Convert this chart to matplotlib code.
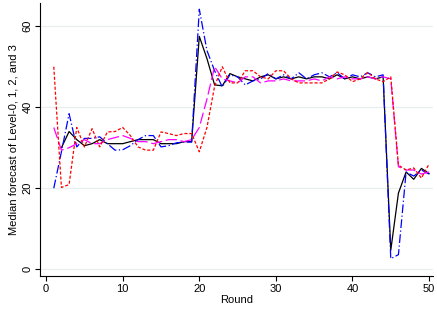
import numpy as np
import matplotlib
matplotlib.use("Agg")
import matplotlib.pyplot as plt

plt.rcParams["font.family"] = ["Liberation Sans", "DejaVu Sans"]

rounds = np.arange(1, 51)

level0 = [np.nan, 30, 34, 32, 30.5, 31, 32, 31, 31, 31,
          31.5, 32, 32, 32, 31, 31, 31, 31.5, 31.5, 57.5,
          52, 45.5, 45.3, 48.3, 47.5, 47, 46.5, 47.5, 48, 47,
          47.5, 47, 47.5, 47, 47.5, 47.5, 47, 48, 47, 47.5,
          47, 47.5, 47, 47.5, 4.7, 18.8, 24, 22.2, 24.9, 23.6]

level1 = [20, 29, 38.4, 30.2, 32.3, 32.3, 32.7, 31, 29.4, 29.5,
          30.5, 32, 33, 33, 30.2, 30.5, 31.2, 31.4, 31.4, 64.2,
          54, 49, 45, 48, 47.5, 45.5, 46.5, 47, 48.3, 47,
          48, 47, 48.5, 47, 48, 48.5, 47.5, 48.5, 47, 48,
          47.5, 48.5, 47.5, 48, 2.6, 3.6, 24, 23, 24.5, 23.5]

level2 = [35, 29.4, 30, 31, 32, 31, 31, 32, 32.5, 33,
          32.3, 31.5, 31.5, 31, 31.5, 32, 32, 31.5, 32, 35,
          42, 50, 47, 46.5, 46, 47.5, 47.5, 46, 46.5, 46.5,
          47, 46.5, 46.5, 46.5, 47, 46.5, 47.5, 47, 47.5, 47,
          47, 47.5, 47, 47.5, 47, 25.3, 24.5, 24.5, 23.5, 24]

level3 = [50, 20.2, 20.9, 35, 30.2, 34.7, 30.2, 33.9, 34, 35,
          33, 30.2, 29.4, 29.4, 33.9, 33.5, 33, 33.5, 33.5, 29,
          35, 45.2, 50, 46, 46, 49, 49, 47.5, 47, 49,
          49, 47, 46, 46, 46, 46, 47, 48.7, 48, 46.3,
          47, 48.6, 47, 46.3, 47.5, 25.7, 24.5, 25, 22.5, 26]

fig = plt.figure(figsize=(4.37, 3.12), dpi=100)
ax = fig.add_axes([0.0915, 0.115, 0.9, 0.875])

ax.plot(rounds, level0, color="black", lw=0.9, ls="-")
ax.plot(rounds, level1, color="blue", lw=0.9, ls=(0, (7, 2, 1, 2)))
ax.plot(rounds, level2, color="#ff00ff", lw=0.9, ls=(0, (9, 3)))
ax.plot(rounds, level3, color="red", lw=0.9, ls=(0, (2.5, 1.5)))

ax.set_xlim(-0.8, 50.55)
ax.set_ylim(-1.7, 65.7)
ax.set_xticks([0, 10, 20, 30, 40, 50])
ax.set_yticks([0, 20, 40, 60])
ax.grid(axis="y", color="#e8eff0", lw=0.9)
ax.set_axisbelow(True)
for s in ["top", "right"]:
    ax.spines[s].set_visible(False)
ax.tick_params(labelsize=8, length=3.5, width=0.8, pad=2)
for lab in ax.get_yticklabels():
    lab.set_rotation(90)
    lab.set_va("center")
ax.set_xlabel("Round", fontsize=8, labelpad=1)
ax.set_ylabel("Median forecast of Level-0, 1, 2, and 3", fontsize=8, labelpad=3)

fig.savefig("out.png", dpi=100)
